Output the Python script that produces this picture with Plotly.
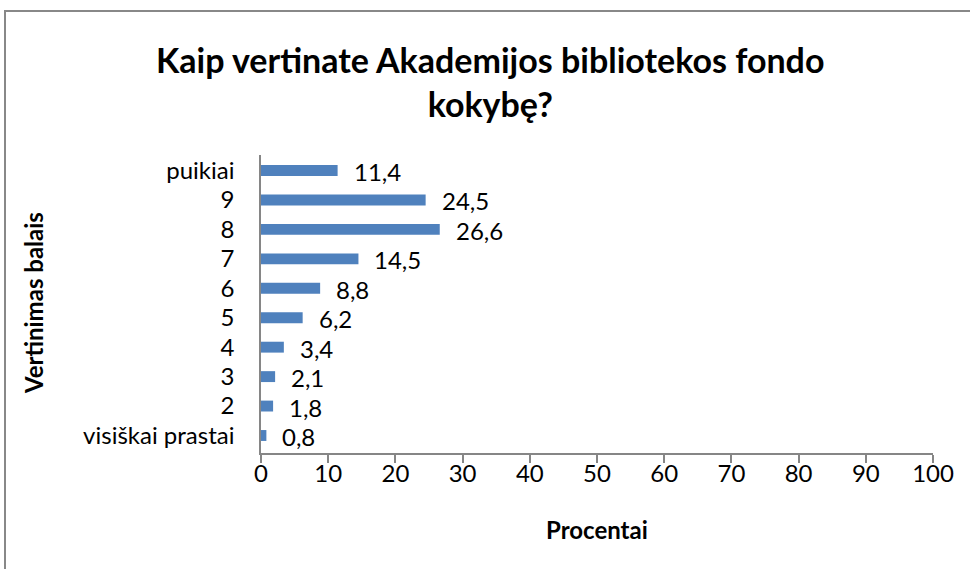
import plotly.graph_objects as go

# Survey results: rating of library collection quality (percent of respondents)
categories = ["visiškai prastai", "2", "3", "4", "5", "6", "7", "8", "9", "puikiai"]
values = [0.8, 1.8, 2.1, 3.4, 6.2, 8.8, 14.5, 26.6, 24.5, 11.4]
x_ticks = [0, 10, 20, 30, 40, 50, 60, 70, 80, 90, 100]

W, H = 970, 569
FONT = "Lato"
BAR = "#4F81BD"
AXIS = "#868686"

def px(x):
    return x / W

def py(y):
    return 1 - y / H

fig = go.Figure()
fig.add_trace(go.Bar(
    y=categories,
    x=values,
    orientation="h",
    marker=dict(color=BAR, line=dict(width=0)),
    hoverinfo="skip",
))

# value labels just past the end of each bar (y given as category index)
for i, val in enumerate(values):
    fig.add_annotation(
        x=val, y=i, xref="x", yref="y",
        text=f"{val:.1f}".replace(".", ","),
        showarrow=False, xanchor="left", yanchor="middle",
        xshift=14, yshift=-1,
        font=dict(family=FONT, size=24, color="#000000"),
    )

# chart title
fig.add_annotation(
    x=px(490), y=py(82), xref="paper", yref="paper",
    text="<b>Kaip vertinate Akademijos bibliotekos fondo<br>kokybę?</b>",
    showarrow=False, xanchor="center", yanchor="middle", align="center",
    font=dict(family=FONT, size=34, color="#000000"),
)

# axis titles
fig.add_annotation(
    x=px(597), y=py(529), xref="paper", yref="paper",
    text="<b>Procentai</b>", showarrow=False,
    xanchor="center", yanchor="middle",
    font=dict(family=FONT, size=24, color="#000000"),
)
fig.add_annotation(
    x=px(33), y=py(303), xref="paper", yref="paper",
    text="<b>Vertinimas balais</b>", showarrow=False, textangle=-90,
    xanchor="center", yanchor="middle",
    font=dict(family=FONT, size=24, color="#000000"),
)

# outer chart frame
fig.add_shape(
    type="rect", xref="paper", yref="paper",
    x0=px(5), y0=py(H + 10), x1=px(W + 10), y1=py(11),
    line=dict(color="#888888", width=2), fillcolor="rgba(0,0,0,0)",
    layer="below",
)

fig.update_layout(
    width=W, height=H,
    margin=dict(l=0, r=0, t=0, b=0, autoexpand=False),
    paper_bgcolor="white", plot_bgcolor="white",
    showlegend=False,
    bargap=0.63,
    font=dict(family=FONT, size=24, color="#000000"),
    xaxis=dict(
        domain=[px(261), px(933)],
        range=[0, 100], tickvals=x_ticks,
        showgrid=False, zeroline=False, automargin=False,
        showline=True, linecolor=AXIS, linewidth=1.5,
        ticks="outside", ticklen=8, tickcolor=AXIS, tickwidth=1.5,
        ticklabelstandoff=-10,
        tickfont=dict(family=FONT, size=24, color="#000000"),
        fixedrange=True,
    ),
    yaxis=dict(
        domain=[py(453), py(155)],
        categoryorder="array", categoryarray=categories,
        showgrid=False, zeroline=False, automargin=False,
        showline=True, linecolor=AXIS, linewidth=1.5,
        ticks="", ticklen=0, ticklabelstandoff=20,
        tickfont=dict(family=FONT, size=24, color="#000000"),
        fixedrange=True,
    ),
)

fig.write_html(
    "out.html",
    config={"responsive": False, "displayModeBar": False},
    post_script="document.body.style.margin='0';document.body.style.overflow='hidden';",
)
